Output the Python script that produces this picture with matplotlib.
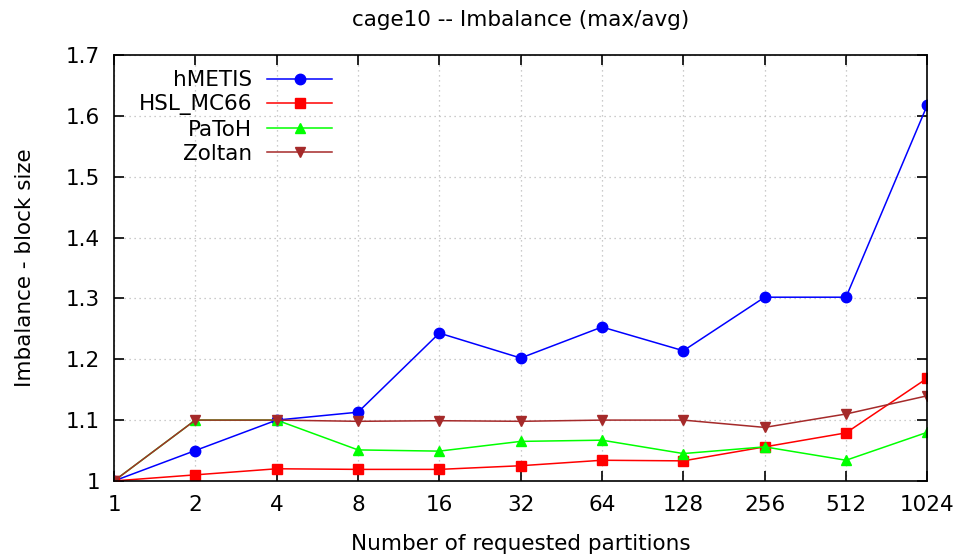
import matplotlib
matplotlib.use("Agg")
import matplotlib.pyplot as plt

parts = [1, 2, 4, 8, 16, 32, 64, 128, 256, 512, 1024]
hmetis = [1.0, 1.05, 1.1, 1.113, 1.243, 1.202, 1.253, 1.214, 1.302, 1.302, 1.618]
hsl = [1.0, 1.01, 1.02, 1.019, 1.019, 1.025, 1.034, 1.033, 1.056, 1.079, 1.169]
patoh = [1.0, 1.1, 1.1, 1.051, 1.049, 1.065, 1.067, 1.045, 1.056, 1.034, 1.08]
zoltan = [1.0, 1.1, 1.1, 1.098, 1.099, 1.098, 1.1, 1.1, 1.088, 1.11, 1.14]

fs = 15.5
plt.rcParams["font.family"] = "DejaVu Sans"
fig = plt.figure(figsize=(9.58, 5.56), dpi=100)
ax = fig.add_axes([0.119, 0.135, 0.849, 0.766])

x = list(range(len(parts)))
ax.plot(x, hmetis, color="#0000ff", marker="o", ms=7.5, lw=1.1, label="hMETIS")
ax.plot(x, hsl, color="#ff0000", marker="s", ms=7, lw=1.1, label="HSL_MC66")
ax.plot(x, patoh, color="#00ff00", marker="^", ms=6.5, lw=1.1, label="PaToH")
ax.plot(x, zoltan, color="#a52a2a", marker="v", ms=6.5, lw=1.1, label="Zoltan")

ax.set_xlim(0, len(parts) - 1)
ax.set_ylim(1.0, 1.7)
ax.set_xticks(x)
ax.set_xticklabels([str(p) for p in parts])
ax.set_yticks([1.0, 1.1, 1.2, 1.3, 1.4, 1.5, 1.6, 1.7])
ax.set_yticklabels(["1", "1.1", "1.2", "1.3", "1.4", "1.5", "1.6", "1.7"])
ax.tick_params(direction="in", top=True, right=True, length=7, width=1.2, labelsize=fs)
ax.tick_params(axis="y", pad=10)
ax.tick_params(axis="x", pad=10)
ax.grid(True, linestyle=(0, (1, 3)), color="#bbbbbb", lw=0.9)
for s in ax.spines.values():
    s.set_linewidth(1.2)

ax.set_title("cage10 -- Imbalance (max/avg)", fontsize=fs, pad=21)
ax.set_xlabel("Number of requested partitions", fontsize=fs, labelpad=14)
ax.set_ylabel("Imbalance - block size", fontsize=fs, labelpad=22)

leg = ax.legend(loc="upper left", markerfirst=False, frameon=False, fontsize=fs,
                handlelength=3.0, handletextpad=0.7, borderaxespad=0.0, labelspacing=0.2,
                bbox_to_anchor=(0.02, 0.985))
for t in leg.get_texts():
    t.set_ha("right")

fig.savefig("out.png", dpi=100)
